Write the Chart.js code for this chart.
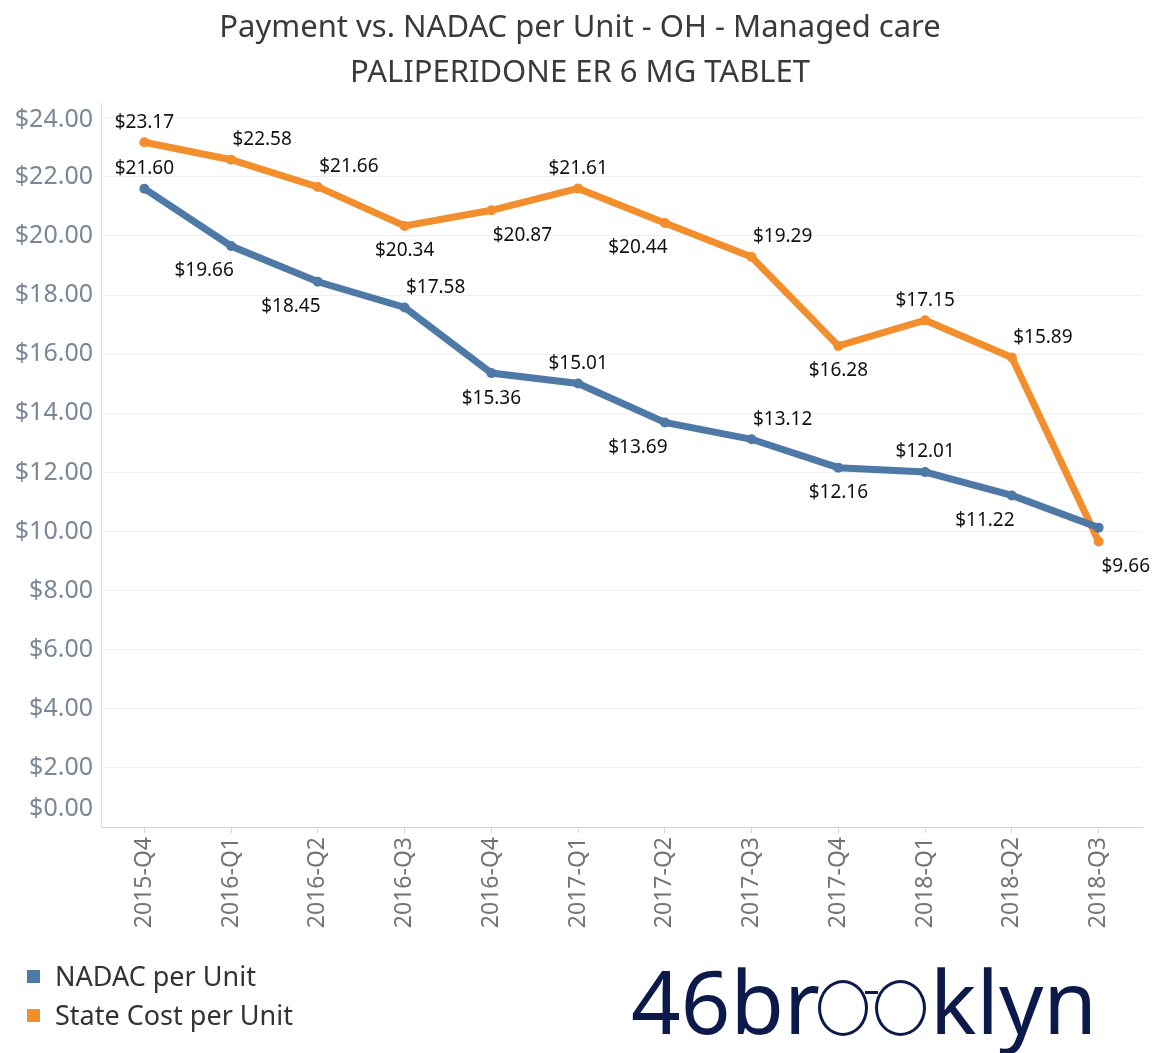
<!DOCTYPE html>
<html>
<head>
<meta charset="utf-8">
<script src="https://cdn.jsdelivr.net/npm/chart.js@4.4.1/dist/chart.umd.min.js"></script>
<style>
  html, body { margin: 0; padding: 0; background: #fff; }
  body { width: 1152px; height: 1053px; position: relative; overflow: hidden; font-family: "Noto Sans", sans-serif; }
  #chart { position: absolute; left: 0; top: 0; }
  .title { position: absolute; left: 0; width: 1160px; text-align: center; color: #3a3a3a; font-size: 31px; line-height: 31px; white-space: nowrap; }
  .legend { position: absolute; left: 27px; color: #333; font-size: 27px; line-height: 27px; white-space: nowrap; }
  .legend i { display: inline-block; width: 13px; height: 13px; margin-right: 15px; vertical-align: 3px; }
  .logo { position: absolute; color: #0b1a4a; font-size: 87px; line-height: 87px; white-space: nowrap; }
  .glass { position: absolute; border: 3px solid #0b1a4a; border-radius: 50%; box-sizing: border-box; }
</style>
</head>
<body>
<canvas id="chart" width="1152" height="1053"></canvas>
<div class="title" style="top:10px">Payment vs. NADAC per Unit - OH - Managed care</div>
<div class="title" style="top:55px">PALIPERIDONE ER 6 MG TABLET</div>
<div class="legend" style="top:962px"><i style="background:#4e79a7"></i>NADAC per Unit</div>
<div class="legend" style="top:1001px"><i style="background:#f28e2b"></i>State Cost per Unit</div>
<div class="logo" style="left:631px; top:957px">46br</div>
<div class="glass" style="left:818px; top:980px; width:50px; height:56px"></div>
<div class="glass" style="left:875px; top:980px; width:51px; height:56px"></div>
<div class="glass" style="left:865px; top:991px; width:13px; height:3px; border-radius:0; border-width:3px 0 0 0"></div>
<div class="logo" style="left:930px; top:957px">klyn</div>
<script>
// Data
const quarters = ['2015-Q4', '2016-Q1', '2016-Q2', '2016-Q3', '2016-Q4', '2017-Q1',
                  '2017-Q2', '2017-Q3', '2017-Q4', '2018-Q1', '2018-Q2', '2018-Q3'];
const nadac = [21.60, 19.66, 18.45, 17.58, 15.36, 15.01, 13.69, 13.12, 12.16, 12.01, 11.22, 10.13];
const stateCost = [23.17, 22.58, 21.66, 20.34, 20.87, 21.61, 20.44, 19.29, 16.28, 17.15, 15.89, 9.66];

// label placement: a = above, b = below, ar/al/br/bl = shifted sideways, '' = none
const nadacPlace = ['a', 'bl', 'bl', 'ar', 'b', 'a', 'bl', 'ar', 'b', 'a', 'bl', ''];
const statePlace = ['a', 'ar', 'ar', 'b', 'br', 'a', 'bl', 'ar', 'b', 'a', 'ar', 'br'];

const money = v => '$' + v.toFixed(2);

// Y axis labels, kept inside the pane like Tableau does
const yLabels = {
    id: 'yLabels',
    afterDraw(chart) {
        const ctx = chart.ctx;
        const y = chart.scales.y;
        const area = chart.chartArea;
        ctx.save();
        ctx.font = '25px "Noto Sans"';
        ctx.fillStyle = '#7b8797';
        ctx.textAlign = 'right';
        ctx.textBaseline = 'middle';
        y.ticks.forEach(t => {
            let py = y.getPixelForValue(t.value);
            py = Math.max(area.top + 17, Math.min(area.bottom - 18, py));
            ctx.fillText(money(t.value), 93, py);
        });
        ctx.restore();
    }
};

// Point value labels
const valueLabels = {
    id: 'valueLabels',
    afterDatasetsDraw(chart) {
        const ctx = chart.ctx;
        const area = chart.chartArea;
        const places = [nadacPlace, statePlace];
        ctx.save();
        ctx.font = '19px "Noto Sans"';
        ctx.fillStyle = '#111';
        ctx.textAlign = 'center';
        ctx.textBaseline = 'middle';
        chart.data.datasets.forEach((ds, i) => {
            const meta = chart.getDatasetMeta(i);
            meta.data.forEach((pt, j) => {
                const p = places[i][j];
                if (!p) return;
                const txt = money(ds.data[j]);
                const w = ctx.measureText(txt).width;
                let x = pt.x;
                let yy = pt.y + (p[0] === 'a' ? -20 : 25);
                if (p[1] === 'r') x += 31;
                if (p[1] === 'l') x -= 27;
                x = Math.max(area.left + 3 + w / 2, Math.min(1150 - w / 2, x));
                ctx.fillText(txt, x, yy);
            });
        });
        ctx.restore();
    }
};

new Chart(document.getElementById('chart'), {
    type: 'line',
    data: {
        labels: quarters,
        datasets: [
            {
                label: 'NADAC per Unit',
                data: nadac,
                borderColor: '#4e79a7',
                backgroundColor: '#4e79a7',
                borderWidth: 7,
                pointRadius: 5,
                pointBorderWidth: 0,
                tension: 0
            },
            {
                label: 'State Cost per Unit',
                data: stateCost,
                borderColor: '#f28e2b',
                backgroundColor: '#f28e2b',
                borderWidth: 7,
                pointRadius: 5,
                pointBorderWidth: 0,
                tension: 0
            }
        ]
    },
    options: {
        responsive: false,
        devicePixelRatio: 1,
        animation: false,
        layout: { padding: { left: 101, right: 10, top: 103, bottom: 0 } },
        plugins: {
            legend: { display: false },
            title: { display: false },
            tooltip: { enabled: false }
        },
        scales: {
            x: {
                offset: true,
                afterFit: s => { s.height = 226; },
                grid: { drawOnChartArea: false, tickLength: 6, color: '#d4d4d4' },
                border: { color: '#d4d4d4' },
                ticks: {
                    minRotation: 90,
                    maxRotation: 90,
                    padding: 4,
                    color: '#747474',
                    font: { family: 'Noto Sans', size: 23 }
                }
            },
            y: {
                min: 0,
                max: 24.5,
                afterFit: s => { s.width = 0; },
                afterBuildTicks: s => { s.ticks = s.ticks.filter(t => t.value % 2 === 0); },
                ticks: { display: false, stepSize: 2 },
                grid: { color: '#efefef', drawTicks: false },
                border: { color: '#dcdcdc' }
            }
        }
    },
    plugins: [yLabels, valueLabels]
});
</script>
</body>
</html>
